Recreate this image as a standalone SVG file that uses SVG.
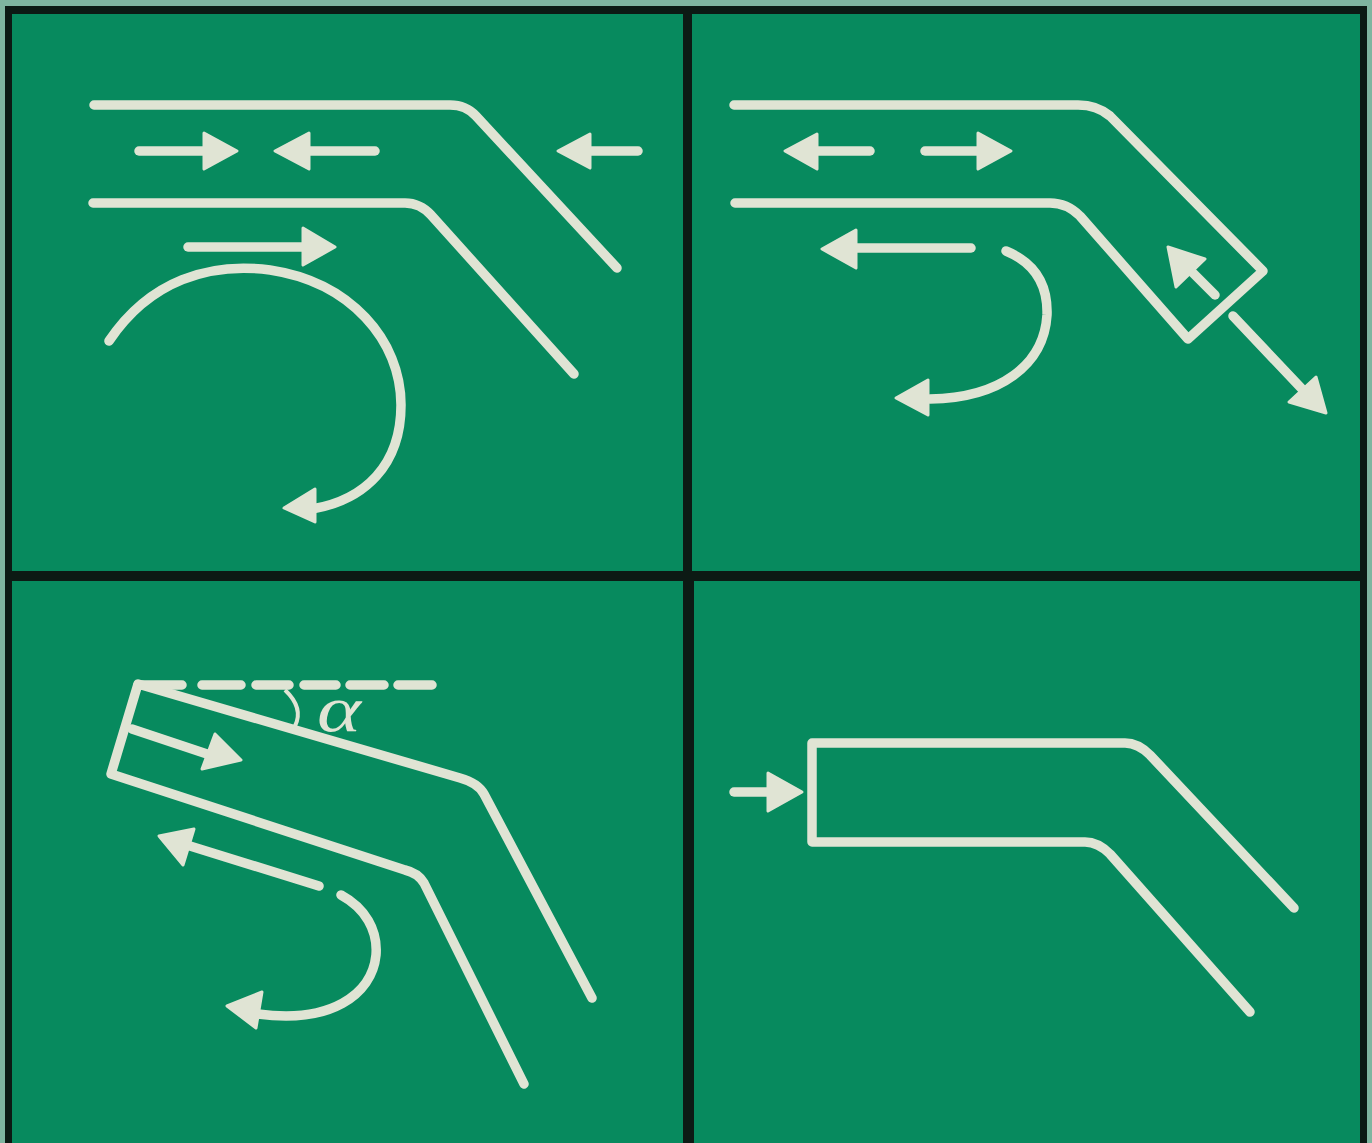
<svg xmlns="http://www.w3.org/2000/svg" width="1372" height="1143" viewBox="0 0 1372 1143">
<style>
.l{fill:none;stroke:#e0e4d4;stroke-width:9.5;stroke-linecap:round;stroke-linejoin:round}
.h{fill:#e0e4d4;stroke:#e0e4d4;stroke-width:3;stroke-linejoin:round}
.t{fill:#e0e4d4;font-family:"Liberation Serif",serif;font-style:italic;font-size:66px}
</style>
<rect width="1372" height="1143" fill="#7fb5a0"/>
<rect x="5" y="6" width="1362" height="1137" fill="#0c1a14"/>
<rect x="12" y="14" width="671" height="557" fill="#078a5e"/>
<rect x="692" y="14" width="668" height="557" fill="#078a5e"/>
<rect x="12" y="581" width="671" height="562" fill="#078a5e"/>
<rect x="694" y="581" width="666" height="562" fill="#078a5e"/>
<g id="panel-a">
<path class="l" d="M94 105H450Q466 105 476 116L617 268"/>
<path class="l" d="M93 203H405Q420 203 431 215L574 374"/>
<path class="l" d="M139 151H205"/><polygon class="h" points="204,133 237,151 204,169"/>
<path class="l" d="M375 151H310"/><polygon class="h" points="309,133 275,151 309,169"/>
<path class="l" d="M638 151H590"/><polygon class="h" points="590,134 558,151 590,168"/>
<path class="l" d="M188 247H305"/><polygon class="h" points="303,228 335,247 303,265"/>
<path class="l" d="M109 341C150 280 210 262 270 270C350 282 401 340 401 405C401 465 365 500 312 509"/><polygon class="h" points="284,508 315,489 315,522"/>
</g>
<g id="panel-b">
<path class="l" d="M734 105H1078Q1097 105 1110 116L1263 271L1188 339L1080 216Q1067 203 1050 203H735"/>
<path class="l" d="M870 151H815"/><polygon class="h" points="817,134 785,151 817,169"/>
<path class="l" d="M925 151H980"/><polygon class="h" points="978,133 1011,151 978,169"/>
<path class="l" d="M971 248H855"/><polygon class="h" points="856,230 822,249 856,268"/>
<path class="l" d="M1215 295L1190 270"/><polygon class="h" points="1168,247 1205,259 1176,287"/>
<path class="l" d="M1233 316L1303 390"/><polygon class="h" points="1326,413 1289,402 1316,377"/>
<path class="l" d="M1006 251C1035 263 1048 285 1047 315C1044 365 1000 398 930 399"/><polygon class="h" points="896,398 928,380 928,415"/>
</g>
<g id="panel-c">
<path class="l" d="M592 998L484 794Q478 783 460 778L138 684L111 774L405 870Q418 873 424 883L524 1084"/>
<path class="l" d="M138 685H182M202 685H241M256 685H289M304 685H336M350 685H384M398 685H432"/>
<path d="M285 690Q304 708 295 726" fill="none" stroke="#e0e4d4" stroke-width="4"/>
<text class="t" x="317" y="731" textLength="44" lengthAdjust="spacingAndGlyphs">α</text>
<path class="l" d="M132 729L207 754"/><polygon class="h" points="215,734 241,760 202,769"/>
<path class="l" d="M319 886L190 846"/><polygon class="h" points="159,836 194,829 183,865"/>
<path class="l" d="M341 895C365 908 378 930 376 955C372 995 330 1024 258 1014"/><polygon class="h" points="227,1006 262,992 256,1028"/>
</g>
<g id="panel-d">
<path class="l" d="M1294 908L1150 755Q1138 743 1125 743H812V842H1085Q1098 842 1110 854L1250 1012"/>
<path class="l" d="M734 792H770"/><polygon class="h" points="768,773 802,792 768,811"/>
</g>
</svg>
